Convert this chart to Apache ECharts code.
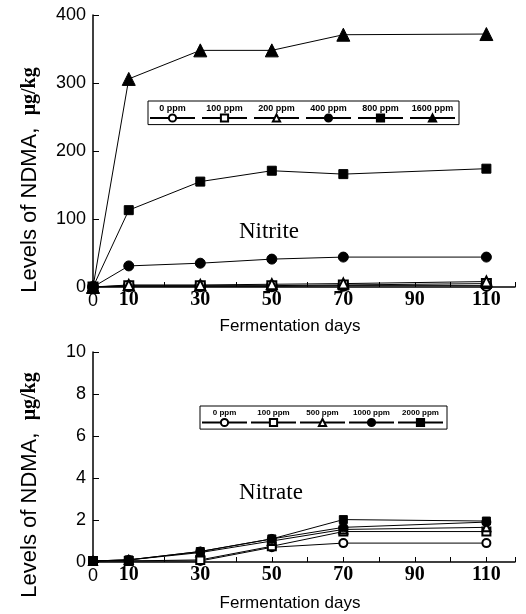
<!DOCTYPE html>
<html>
<head>
<meta charset="utf-8">
<script src="https://cdn.jsdelivr.net/npm/echarts@6/dist/echarts.min.js"></script>
<style>
  html, body { margin: 0; padding: 0; background: #fff; }
  #chart { width: 526px; height: 614px; }
</style>
</head>
<body>
<div id="chart"></div>
<script>
// fermentation days (x) shared by both panels
var days = [0, 10, 30, 50, 70, 110];

// top panel: nitrite levels (ug/kg)
var nitriteNames = ["0 ppm", "100 ppm", "200 ppm", "400 ppm", "800 ppm", "1600 ppm"];
var nitrite0 = [0, 1, 1, 1, 2, 2];
var nitrite100 = [0, 2, 2, 2, 3, 5];
var nitrite200 = [0, 3, 3, 4, 5, 8];
var nitrite400 = [0, 31, 35, 41, 44, 44];
var nitrite800 = [0, 113, 155, 171, 166, 174];
var nitrite1600 = [0, 306, 348, 348, 371, 372];

// bottom panel: nitrate levels (ug/kg)
var nitrateNames = ["0 ppm", "100 ppm", "500 ppm", "1000 ppm", "2000 ppm"];
var nitrate0 = [0.05, 0.05, 0.05, 0.7, 0.9, 0.9];
var nitrate100 = [0.05, 0.05, 0.1, 0.75, 1.45, 1.45];
var nitrate500 = [0.05, 0.1, 0.45, 1.0, 1.55, 1.65];
var nitrate1000 = [0.05, 0.1, 0.5, 1.1, 1.65, 1.9];
var nitrate2000 = [0.05, 0.1, 0.5, 1.1, 2.02, 1.95];

var topTicks = [0, 100, 200, 300, 400];
var bottomTicks = [0, 2, 4, 6, 8, 10];
var shownDays = [0, 10, 30, 50, 70, 90, 110];

const chart = echarts.init(document.getElementById("chart"));

function pairs(vals) {
  return days.map((d, i) => [d, vals[i]]);
}

function makeSeries(name, vals, symbol, size, idx) {
  return {
    name: name,
    type: "line",
    xAxisIndex: idx,
    yAxisIndex: idx,
    data: pairs(vals),
    symbol: symbol,
    symbolSize: size,
    color: "#000",
    lineStyle: { color: "#000", width: 1 },
    itemStyle: { color: "#000", borderColor: "#000", borderWidth: 1 },
    emphasis: { disabled: true },
    animation: false,
    z: 3,
  };
}

function xAxis(idx) {
  return {
    type: "value",
    gridIndex: idx,
    min: 0,
    max: 118,
    interval: 10,
    axisLine: { lineStyle: { color: "#000", width: 1.5 } },
    axisTick: { inside: true, length: 5, lineStyle: { color: "#000" } },
    splitLine: { show: false },
    axisLabel: {
      margin: 3,
      formatter: function (v) {
        if (shownDays.indexOf(v) < 0) return "";
        return v === 0 ? "{s|0}" : "{t|" + v + "}";
      },
      rich: {
        s: { fontFamily: "Liberation Sans", fontSize: 18, color: "#000", padding: [2, 0, 0, 0] },
        t: { fontFamily: "Liberation Serif", fontWeight: "bold", fontSize: 20, color: "#000" },
      },
    },
  };
}

function yAxis(idx, max, step) {
  return {
    type: "value",
    gridIndex: idx,
    min: 0,
    max: max,
    interval: step,
    axisLine: { show: true, lineStyle: { color: "#000", width: 1.5 } },
    axisTick: { show: true, inside: true, length: 6, lineStyle: { color: "#000" } },
    splitLine: { show: false },
    axisLabel: {
      margin: 7,
      fontFamily: "Liberation Sans",
      fontSize: 18,
      color: "#000",
    },
  };
}

function legendBox(names, left, top, gap, fontSize) {
  return {
    data: names,
    left: left,
    top: top,
    orient: "horizontal",
    itemWidth: 45,
    itemHeight: 9,
    itemGap: gap,
    selectedMode: false,
    borderColor: "#000",
    borderWidth: 1,
    borderRadius: 0,
    padding: [3, 3, 2, 1],
    formatter: function (n) {
      return "{c|" + n + "}";
    },
    textStyle: {
      padding: [0, 0, 19, -52.5],
      rich: {
        c: {
          width: 50,
          align: "center",
          fontFamily: "Liberation Sans",
          fontWeight: "bold",
          fontSize: fontSize,
          color: "#000",
        },
      },
    },
  };
}

function axisName(y, text) {
  return {
    type: "text",
    x: 30,
    y: y,
    rotation: Math.PI / 2,
    style: {
      text: "{a|Levels of NDMA,  }{b|" + text + "}",
      align: "center",
      verticalAlign: "middle",
      rich: {
        a: { fontFamily: "Liberation Sans", fontSize: 22, fill: "#000" },
        b: { fontFamily: "Liberation Serif", fontWeight: "bold", fontSize: 20, fill: "#000" },
      },
    },
  };
}

function plainText(x, y, text, family, size, weight) {
  return {
    type: "text",
    x: x,
    y: y,
    style: {
      text: text,
      align: "center",
      verticalAlign: "middle",
      font: (weight || "normal") + " " + size + "px " + family,
      fill: "#000",
    },
  };
}

let option = {
  backgroundColor: "#fff",
  animation: false,
  grid: [
    { left: 93, top: 15, width: 422, height: 272 },
    { left: 93, top: 352, width: 422, height: 210 },
  ],
  xAxis: [xAxis(0), xAxis(1)],
  yAxis: [yAxis(0, 400, 100), yAxis(1, 10, 2)],
  legend: [
    legendBox(nitriteNames, 148, 101, 5, 9),
    legendBox(nitrateNames, 200, 406, 2, 8),
  ],
  graphic: [
    axisName(180, "μg/kg"),
    axisName(485, "μg/kg"),
    plainText(290, 326, "Fermentation days", "Liberation Sans", 17),
    plainText(290, 603, "Fermentation days", "Liberation Sans", 17),
    plainText(269, 232, "Nitrite", "Liberation Serif", 23),
    plainText(271, 493, "Nitrate", "Liberation Serif", 23),
  ],
  series: [
    makeSeries("0 ppm", nitrite0, "emptyCircle", 10, 0),
    makeSeries("100 ppm", nitrite100, "emptyRect", 9, 0),
    makeSeries("200 ppm", nitrite200, "emptyTriangle", 10, 0),
    makeSeries("400 ppm", nitrite400, "circle", 10, 0),
    makeSeries("800 ppm", nitrite800, "rect", 9, 0),
    makeSeries("1600 ppm", nitrite1600, "triangle", 13, 0),
    makeSeries("0 ppm", nitrate0, "emptyCircle", 8, 1),
    makeSeries("100 ppm", nitrate100, "emptyRect", 8, 1),
    makeSeries("500 ppm", nitrate500, "emptyTriangle", 8, 1),
    makeSeries("1000 ppm", nitrate1000, "circle", 9, 1),
    makeSeries("2000 ppm", nitrate2000, "rect", 8, 1),
  ],
};
chart.setOption(option);
</script>
</body>
</html>
